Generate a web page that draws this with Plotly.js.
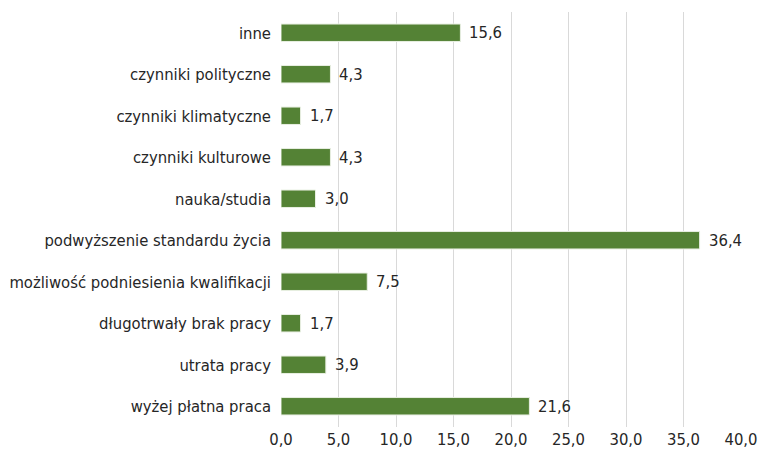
<!DOCTYPE html>
<html>
<head>
<meta charset="utf-8">
<script src="https://cdn.plot.ly/plotly-3.0.1.min.js"></script>
<style>html,body{margin:0;padding:0;background:#fff;}#chart{width:759px;height:454px;}</style>
</head>
<body>
<div id="chart"></div>
<script>
const categories = [
  "wyżej płatna praca",
  "utrata pracy",
  "długotrwały brak pracy",
  "możliwość podniesienia kwalifikacji",
  "podwyższenie standardu życia",
  "nauka/studia",
  "czynniki kulturowe",
  "czynniki klimatyczne",
  "czynniki polityczne",
  "inne"
];
const values = [21.6, 3.9, 1.7, 7.5, 36.4, 3.0, 4.3, 1.7, 4.3, 15.6];
const tickValues = [0, 5, 10, 15, 20, 25, 30, 35, 40];

const FONT = "'Liberation Sans Narrow', 'DejaVu Sans Condensed', sans-serif";

const trace = {
  type: "bar",
  orientation: "h",
  y: categories,
  x: values,
  marker: {color: "#548235", line: {color: "#e8efe2", width: 1}},
  width: 0.42,
  hoverinfo: "none"
};

const annotations = values.map((v, i) => ({
  x: v,
  y: categories[i],
  xref: "x",
  yref: "y",
  text: v.toFixed(1).replace(".", ","),
  showarrow: false,
  xanchor: "left",
  yanchor: "middle",
  xshift: 7,
  font: {family: FONT, size: 16.5, color: "#262626"}
}));

const layout = {
  width: 759,
  height: 454,
  margin: {l: 281, r: 18, t: 12, b: 27},
  paper_bgcolor: "#ffffff",
  plot_bgcolor: "#ffffff",
  separators: ",.",
  font: {family: FONT, size: 16.5, color: "#262626"},
  showlegend: false,
  annotations: annotations,
  xaxis: {
    range: [0, 40],
    tickvals: tickValues,
    tickformat: ".1f",
    showgrid: true,
    gridcolor: "#d9d9d9",
    gridwidth: 1,
    zeroline: false,
    showline: false,
    ticks: "",
    tickfont: {family: FONT, size: 16.5, color: "#262626"},
    fixedrange: true
  },
  yaxis: {
    type: "category",
    categoryorder: "array",
    categoryarray: categories,
    showgrid: false,
    zeroline: false,
    showline: false,
    ticks: "",
    ticklen: 0,
    ticklabelstandoff: 9,
    tickfont: {family: FONT, size: 16.5, color: "#262626"},
    automargin: false,
    fixedrange: true
  }
};

Plotly.newPlot("chart", [trace], layout, {displayModeBar: false, staticPlot: true});
</script>
</body>
</html>
